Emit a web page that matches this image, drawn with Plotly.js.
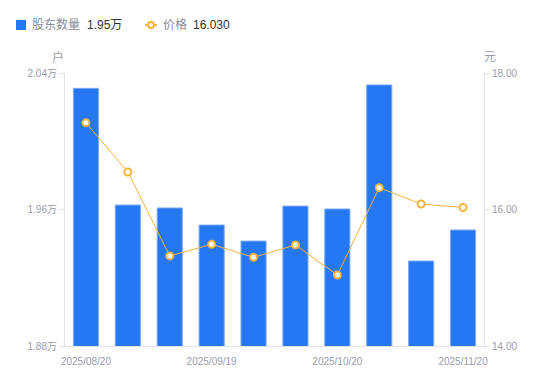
<!DOCTYPE html>
<html><head><meta charset="utf-8">
<script src="https://cdn.plot.ly/plotly-3.0.1.min.js"></script>
<style>html,body{margin:0;padding:0;background:#fff}#c{width:550px;height:381px}</style>
</head><body><div id="c"></div>
<script>
const dates = ["2025/08/20","2025/08/29","2025/09/10","2025/09/19","2025/09/30","2025/10/10","2025/10/20","2025/10/31","2025/11/10","2025/11/20"];
const holders = [2.031, 1.9626, 1.9609, 1.9509, 1.9415, 1.962, 1.9603, 2.033, 1.9298, 1.948];
const prices = [17.27, 16.55, 15.32, 15.49, 15.30, 15.48, 15.04, 16.32, 16.08, 16.03];
const xTicks = ["2025/08/20","2025/09/19","2025/10/20","2025/11/20"];
const leftTicks = [1.88, 1.96, 2.04];
const leftTickText = ["1.88万","1.96万","2.04万"];
const rightTicks = [14, 16, 18];
const rightTickText = ["14.00","16.00","18.00"];

const font = "Liberation Sans, Arial, 'Noto Sans CJK SC', sans-serif";
const grey = "#9a9cab";
const axisLine = "#e3e3e6";

const traces = [
  {type:"bar", x:dates, y:holders, name:"股东数量", yaxis:"y",
   marker:{color:"#2677f2", line:{color:"#7eaaf5", width:1}}, hoverinfo:"none"},
  {type:"scatter", mode:"lines+markers", x:dates, y:prices, name:"价格", yaxis:"y2",
   line:{color:"#f6b33f", width:1},
   marker:{symbol:"circle", size:7, color:"#ffffff", line:{color:"#f6b33f", width:2}}, hoverinfo:"none"}
];

const W = 550 - 65 - 66, H = 381 - 73 - 35;
function px(x){return (x-65)/W;}
function py(y){return (381-35-y)/H;}

const layout = {
  width:550, height:381,
  margin:{l:65, r:66, t:73, b:35},
  paper_bgcolor:"#fff", plot_bgcolor:"#fff",
  showlegend:false, bargap:0.4,
  font:{family:font, size:10, color:grey},
  xaxis:{type:"category", range:[-0.5, 9.5], tickmode:"array", tickvals:xTicks, ticktext:xTicks,
    showline:true, linecolor:axisLine, linewidth:1, ticks:"", showgrid:false, zeroline:false,
    ticklabelstandoff:6, tickfont:{size:10, color:grey}},
  yaxis:{range:[1.88, 2.04], tickvals:leftTicks, ticktext:leftTickText, showgrid:false, zeroline:false,
    showline:true, linecolor:axisLine, ticks:"outside", ticklen:5, tickcolor:axisLine,
    tickfont:{size:10, color:grey}},
  yaxis2:{range:[14, 18], tickvals:rightTicks, ticktext:rightTickText, overlaying:"y", side:"right",
    showgrid:false, zeroline:false, showline:true, linecolor:axisLine, ticks:"outside", ticklen:5, tickcolor:axisLine,
    tickfont:{size:10, color:grey}},
  shapes:[
    {type:"rect", xref:"paper", yref:"paper", x0:px(16), x1:px(26), y0:py(20), y1:py(30), fillcolor:"#2677f2", line:{width:0}},
    {type:"line", xref:"paper", yref:"paper", x0:px(145), x1:px(157), y0:py(25), y1:py(25), line:{color:"#f6b33f", width:2}},
    {type:"circle", xref:"paper", yref:"paper", x0:px(148), x1:px(154), y0:py(22), y1:py(28), fillcolor:"#fff", line:{color:"#f6b33f", width:2}}
  ],
  annotations:[
    {xref:"paper", yref:"paper", x:px(58), y:py(57), xanchor:"center", yanchor:"middle", text:"户", showarrow:false, font:{size:12, color:grey}},
    {xref:"paper", yref:"paper", x:px(490), y:py(57), xanchor:"center", yanchor:"middle", text:"元", showarrow:false, font:{size:12, color:grey}},
    {xref:"paper", yref:"paper", x:px(30), y:py(25), xanchor:"left", yanchor:"middle", showarrow:false,
     text:"股东数量", font:{size:12, color:"#8a8c99"}},
    {xref:"paper", yref:"paper", x:px(85), y:py(25), xanchor:"left", yanchor:"middle", showarrow:false,
     text:"1.95万", font:{size:12, color:"#333"}},
    {xref:"paper", yref:"paper", x:px(161), y:py(25), xanchor:"left", yanchor:"middle", showarrow:false,
     text:"价格", font:{size:12, color:"#8a8c99"}},
    {xref:"paper", yref:"paper", x:px(191), y:py(25), xanchor:"left", yanchor:"middle", showarrow:false,
     text:"16.030", font:{size:12, color:"#333"}}
  ]
};

Plotly.newPlot("c", traces, layout, {staticPlot:true, displayModeBar:false});
</script></body></html>
